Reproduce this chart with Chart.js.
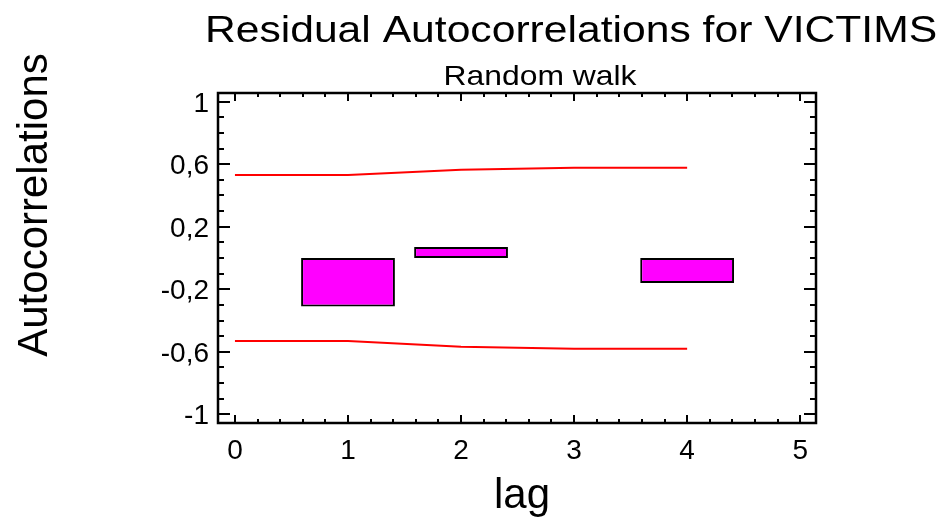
<!DOCTYPE html>
<html>
<head>
<meta charset="utf-8">
<script src="https://cdn.jsdelivr.net/npm/chart.js@4.4.0/dist/chart.umd.min.js"></script>
<style>
  body { margin: 0; background: #fff; }
  #wrap { width: 951px; height: 525px; }
</style>
</head>
<body>
<div id="wrap"><canvas id="acfChart" width="951" height="525"></canvas></div>
<script>
// residual autocorrelations per lag
const lags = [1, 2, 3, 4];
const autocorr = [-0.31, 0.07, 0, -0.16];

// probability limits drawn from lag 0
const limitLags = [0, 1, 2, 3, 4];
const upperLimits = [0.53, 0.53, 0.565, 0.577, 0.577];
const lowerLimits = [-0.53, -0.53, -0.568, -0.58, -0.58];

// labelled ticks
const xTicks = [0, 1, 2, 3, 4, 5];
const xTickLabels = ['0', '1', '2', '3', '4', '5'];
const yTicks = [-1, -0.6, -0.2, 0.2, 0.6, 1];
const yTickLabels = ['-1', '-0,6', '-0,2', '0,2', '0,6', '1'];

const titleText = 'Residual Autocorrelations for VICTIMS';
const subtitleText = 'Random walk';
const xTitle = 'lag';
const yTitle = 'Autocorrelations';

const FONT = "'Liberation Sans', Arial, Helvetica, sans-serif";

const toPoints = (xs, ys) => xs.map((x, i) => ({ x: x, y: ys[i] }));

// centred text, stretched sideways
function wideText(ctx, text, x, y, font, stretch) {
  ctx.save();
  ctx.font = font;
  ctx.translate(x, y);
  ctx.scale(stretch, 1);
  ctx.fillText(text, 0, 0);
  ctx.restore();
}

// frame, inward ticks and all the text
const framePlugin = {
  id: 'frame',
  afterDatasetsDraw(chart) {
    const ctx = chart.ctx;
    const area = chart.chartArea;
    const xs = chart.scales.x;
    const ys = chart.scales.y;
    ctx.save();
    ctx.strokeStyle = '#000';
    ctx.lineWidth = 2;

    // minor ticks every 0.2 on x, every 0.1 on y
    ctx.beginPath();
    for (let i = 0; i <= 25; i++) {
      const v = i * 0.2;
      const px = Math.round(xs.getPixelForValue(v));
      const len = (i % 5 === 0) ? 8 : 4;
      ctx.moveTo(px, area.bottom);
      ctx.lineTo(px, area.bottom - len);
      ctx.moveTo(px, area.top);
      ctx.lineTo(px, area.top + len);
    }
    for (let i = -10; i <= 10; i++) {
      const v = i * 0.1;
      const py = Math.round(ys.getPixelForValue(v));
      const major = (i + 10) % 4 === 0;
      ctx.moveTo(area.left, py);
      ctx.lineTo(area.left + (major ? 12 : 6), py);
      ctx.moveTo(area.right, py);
      ctx.lineTo(area.right - (major ? 12 : 6), py);
    }
    ctx.stroke();

    ctx.lineWidth = 2.5;
    ctx.strokeRect(area.left, area.top, area.right - area.left, area.bottom - area.top);

    // tick labels
    ctx.fillStyle = '#000';
    ctx.font = '28px ' + FONT;
    ctx.textAlign = 'center';
    ctx.textBaseline = 'alphabetic';
    xTicks.forEach((v, i) => {
      ctx.fillText(xTickLabels[i], xs.getPixelForValue(v), area.bottom + 36);
    });
    ctx.textAlign = 'right';
    yTicks.forEach((v, i) => {
      ctx.fillText(yTickLabels[i], area.left - 9, ys.getPixelForValue(v) + 10);
    });
    ctx.restore();
  },
  afterDraw(chart) {
    const ctx = chart.ctx;
    ctx.save();
    ctx.fillStyle = '#000';
    ctx.textAlign = 'center';
    ctx.textBaseline = 'alphabetic';
    wideText(ctx, titleText, 571, 42, '37.5px ' + FONT, 1.137);
    wideText(ctx, subtitleText, 540, 85, '28px ' + FONT, 1.138);
    ctx.font = '42px ' + FONT;
    ctx.fillText(xTitle, 522, 508);
    ctx.translate(47, 205);
    ctx.rotate(-Math.PI / 2);
    ctx.fillText(yTitle, 0, 0);
    ctx.restore();
  }
};

new Chart(document.getElementById('acfChart'), {
  type: 'bar',
  data: {
    datasets: [
      {
        type: 'bar',
        label: 'Autocorrelation',
        data: toPoints(lags, autocorr),
        backgroundColor: '#ff00ff',
        borderColor: '#000',
        borderWidth: 2,
        borderSkipped: false,
        barPercentage: 0.83,
        categoryPercentage: 1,
        order: 2
      },
      {
        type: 'line',
        label: 'Upper limit',
        data: toPoints(limitLags, upperLimits),
        borderColor: '#ff0000',
        borderWidth: 2,
        pointRadius: 0,
        tension: 0,
        fill: false,
        order: 1
      },
      {
        type: 'line',
        label: 'Lower limit',
        data: toPoints(limitLags, lowerLimits),
        borderColor: '#ff0000',
        borderWidth: 2,
        pointRadius: 0,
        tension: 0,
        fill: false,
        order: 1
      }
    ]
  },
  options: {
    responsive: false,
    animation: false,
    devicePixelRatio: 1,
    layout: { padding: { left: 218, top: 93, right: 135, bottom: 102 } },
    plugins: {
      legend: { display: false },
      tooltip: { enabled: false }
    },
    scales: {
      x: { type: 'linear', min: -0.15, max: 5.14, offset: false, display: false },
      y: { type: 'linear', min: -1.055, max: 1.055, display: false }
    }
  },
  plugins: [framePlugin]
});
</script>
</body>
</html>
